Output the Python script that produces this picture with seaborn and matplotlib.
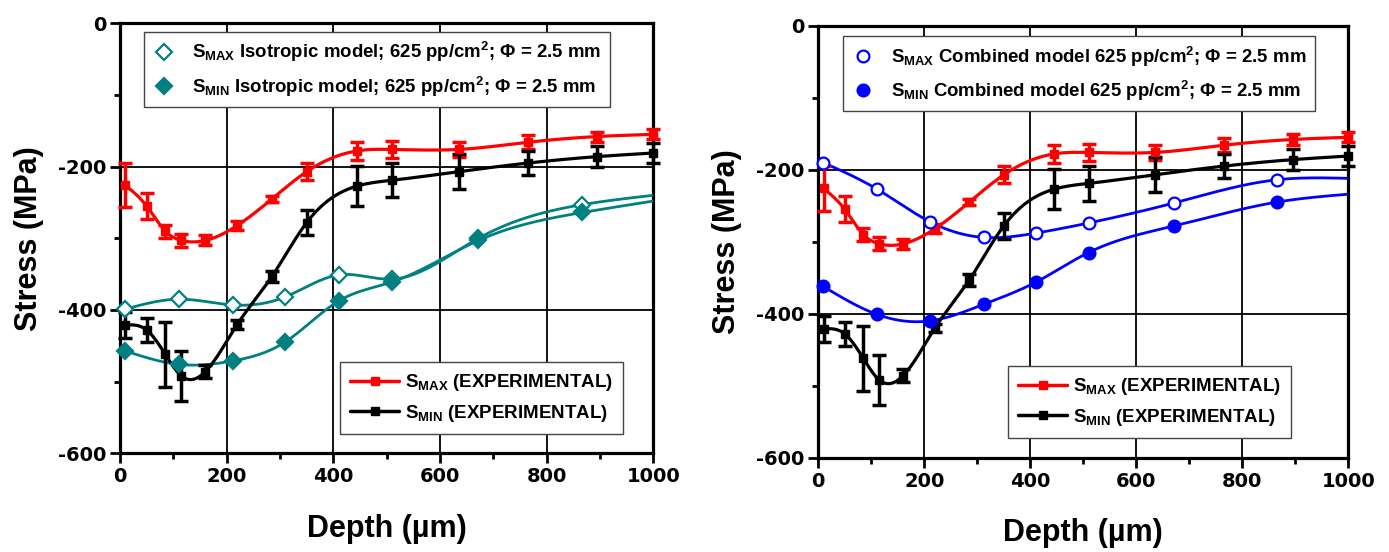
import numpy as np
import matplotlib
matplotlib.use("Agg")
import matplotlib.pyplot as plt
from matplotlib.lines import Line2D
from matplotlib.ticker import MultipleLocator
import seaborn as sns

# ---------------- data ----------------
x_exp = [10, 50, 85, 115, 160, 220, 285, 350, 445, 510, 635, 765, 895, 1000]
smax_exp = [-226, -255, -290, -303, -303, -282, -245, -207, -178, -176, -176, -166, -158, -155]
smax_err = [31, 18, 9, 9, 7, 6, 4, 12, 13, 12, 11, 10, 7, 7]
smin_exp = [-421, -428, -462, -492, -486, -420, -353, -278, -227, -219, -207, -195, -186, -181]
smin_err = [18, 17, 45, 35, 9, 6, 8, 18, 28, 24, 24, 17, 15, 14]

iso_x = [9, 111, 212, 309, 411, 510, 672, 867, 1000]
iso_max = [-399, -385, -393, -382, -351, -357, -300, -253, -240]
iso_min = [-457, -476, -471, -445, -387, -361, -303, -264, -248]

comb_x = [9, 111, 210, 312, 411, 510, 672, 865, 1000]
comb_max = [-190, -227, -272, -294, -288, -274, -246, -214, -212]
comb_min = [-362, -401, -410, -387, -356, -315, -278, -245, -234]

x_ticks = [0, 200, 400, 600, 800, 1000]
y_ticks = [-600, -400, -200, 0]

lbl_iso_max = r"$\mathrm{S}_{\mathrm{MAX}}$ Isotropic model; 625 pp/cm$^{\mathrm{2}}$; Φ = 2.5 mm"
lbl_iso_min = r"$\mathrm{S}_{\mathrm{MIN}}$ Isotropic model; 625 pp/cm$^{\mathrm{2}}$; Φ = 2.5 mm"
lbl_comb_max = r"$\mathrm{S}_{\mathrm{MAX}}$ Combined model 625 pp/cm$^{\mathrm{2}}$; Φ = 2.5 mm"
lbl_comb_min = r"$\mathrm{S}_{\mathrm{MIN}}$ Combined model 625 pp/cm$^{\mathrm{2}}$; Φ = 2.5 mm"
lbl_exp_max = r"$\mathrm{S}_{\mathrm{MAX}}$ (EXPERIMENTAL)"
lbl_exp_min = r"$\mathrm{S}_{\mathrm{MIN}}$ (EXPERIMENTAL)"

# ---------------- style ----------------
sns.set_theme(style="white")
plt.rcParams["font.family"] = ["Liberation Sans", "DejaVu Sans"]
plt.rcParams["font.weight"] = "bold"
plt.rcParams["mathtext.fontset"] = "custom"
plt.rcParams["mathtext.rm"] = "Liberation Sans:bold"
plt.rcParams["mathtext.bf"] = "Liberation Sans:bold"
plt.rcParams["mathtext.it"] = "Liberation Sans:bold"
plt.rcParams["axes.unicode_minus"] = False
for k in ["text.color", "axes.labelcolor", "xtick.color", "ytick.color"]:
    plt.rcParams[k] = "black"

RED = "#ff0000"
TEAL = "#008080"
BLUE = "#0000ff"


def spline(x, y, n=400):
    x = np.asarray(x, float)
    y = np.asarray(y, float)
    m = len(x)
    h = np.diff(x)
    A = np.zeros((m, m))
    b = np.zeros(m)
    A[0, 0] = A[-1, -1] = 1
    for i in range(1, m - 1):
        A[i, i - 1] = h[i - 1]
        A[i, i] = 2 * (h[i - 1] + h[i])
        A[i, i + 1] = h[i]
        b[i] = 3 * ((y[i + 1] - y[i]) / h[i] - (y[i] - y[i - 1]) / h[i - 1])
    c = np.linalg.solve(A, b)
    xs = np.linspace(x[0], x[-1], n)
    idx = np.clip(np.searchsorted(x, xs) - 1, 0, m - 2)
    dx = xs - x[idx]
    bc = (y[1:] - y[:-1]) / h - h * (2 * c[:-1] + c[1:]) / 3
    d = (c[1:] - c[:-1]) / (3 * h)
    ys = y[idx] + bc[idx] * dx + c[idx] * dx ** 2 + d[idx] * dx ** 3
    return xs, ys


def draw_exp(ax):
    for ys, err, col in [(smax_exp, smax_err, RED), (smin_exp, smin_err, "black")]:
        xs, yy = spline(x_exp, ys)
        sns.lineplot(x=xs, y=yy, ax=ax, color=col, lw=2.3, sort=False,
                     estimator=None, zorder=4)
        ax.errorbar(x_exp, ys, yerr=err, fmt="s", color=col, ms=6,
                    elinewidth=2.5, capsize=5, capthick=2.5, zorder=5,
                    clip_on=False)


def draw_model(ax, xm, ymax, ymin, col, marker, ms):
    for ys, face in [(ymax, "white"), (ymin, col)]:
        xs, yy = spline(xm, ys)
        sns.lineplot(x=xs, y=yy, ax=ax, color=col, lw=2.0, sort=False,
                     estimator=None, zorder=3)
        ax.plot(xm[:-1], ys[:-1], ls="none", marker=marker, ms=ms,
                mfc=face, mec=col, mew=1.6, zorder=6, clip_on=False)


TICKFONT = {"family": "DejaVu Sans", "weight": "bold", "size": 14}


def style_axes(ax):
    ax.set_xlim(0, 1000)
    ax.set_ylim(-600, 0)
    ax.set_xticks(x_ticks)
    ax.set_yticks(y_ticks)
    ax.set_xticklabels([str(v) for v in x_ticks], fontdict=TICKFONT)
    ax.set_yticklabels([str(v) for v in y_ticks], fontdict=TICKFONT)
    ax.xaxis.set_minor_locator(MultipleLocator(100))
    ax.yaxis.set_minor_locator(MultipleLocator(100))
    ax.grid(True, which="major", color="black", lw=1.3)
    ax.set_axisbelow(True)
    for s in ax.spines.values():
        s.set_color("black")
        s.set_linewidth(2.3)
    ax.tick_params(which="major", direction="out", length=7, width=2,
                   pad=3, colors="black", bottom=True, left=True)
    ax.tick_params(which="minor", direction="out", length=4, width=2,
                   bottom=True, left=True)
    ax.set_xlabel("Depth (µm)", fontsize=22, fontweight="bold", labelpad=20)
    ax.set_ylabel("Stress (MPa)", fontsize=22, fontweight="bold", labelpad=10)


def legends(ax, model_handles, model_labels, up_anchor, low_anchor):
    leg1 = ax.legend(model_handles, model_labels, loc="upper left",
                     bbox_to_anchor=up_anchor, fontsize=13.4, frameon=True,
                     fancybox=False, edgecolor="#444444", framealpha=1,
                     handlelength=1.2, handletextpad=0.95, borderpad=0.45,
                     labelspacing=0.55, borderaxespad=0)
    leg1.get_frame().set_linewidth(1.0)
    ax.add_artist(leg1)
    h_exp = [Line2D([], [], color=RED, lw=2.5, marker="s", ms=6),
             Line2D([], [], color="black", lw=2.5, marker="s", ms=6)]
    leg2 = ax.legend(h_exp, [lbl_exp_max, lbl_exp_min], loc="upper left",
                     bbox_to_anchor=low_anchor, fontsize=13.5, frameon=True,
                     fancybox=False, edgecolor="#444444", framealpha=1,
                     handlelength=2.6, handletextpad=0.3, borderpad=0.55,
                     labelspacing=0.5, borderaxespad=0)
    leg2.get_frame().set_linewidth(1.0)


fig = plt.figure(figsize=(13.89, 5.52), dpi=100)
ax1 = fig.add_axes([0.0864, 0.1788, 0.3840, 0.7790])
ax2 = fig.add_axes([0.5891, 0.1708, 0.3816, 0.7826])

# left panel
draw_model(ax1, iso_x, iso_max, iso_min, TEAL, "D", 8.5)
draw_exp(ax1)
style_axes(ax1)
hm = [Line2D([], [], ls="none", marker="D", ms=8.5, mfc="white", mec=TEAL, mew=1.6),
      Line2D([], [], ls="none", marker="D", ms=8.5, mfc=TEAL, mec=TEAL, mew=1.6)]
legends(ax1, hm, [lbl_iso_max, lbl_iso_min], (0.045, 0.98), (0.4125, 0.212))

# right panel
draw_model(ax2, comb_x, comb_max, comb_min, BLUE, "o", 8.5)
draw_exp(ax2)
style_axes(ax2)
hc = [Line2D([], [], ls="none", marker="o", ms=8.5, mfc="white", mec=BLUE, mew=1.6),
      Line2D([], [], ls="none", marker="o", ms=8.5, mfc=BLUE, mec=BLUE, mew=1.6)]
legends(ax2, hc, [lbl_comb_max, lbl_comb_min], (0.0466, 0.976), (0.358, 0.212))

fig.savefig("out.png", dpi=100)
